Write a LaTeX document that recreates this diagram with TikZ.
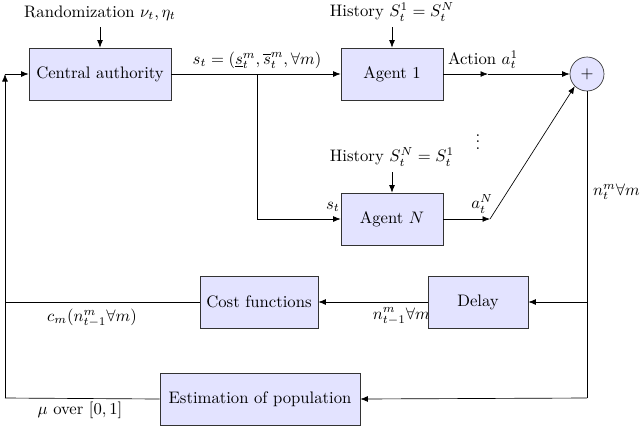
\documentclass[tikz,border=0pt]{standalone}
\usetikzlibrary{arrows.meta}
\begin{document}
\begin{tikzpicture}[x=0.6pt,y=-0.6pt,
  blk/.style={draw=black!80,fill=blue!11,inner sep=0pt,minimum height=31.2pt},
  arr/.style={-{Latex[length=4.5pt,width=3.5pt]},thin},
  ln/.style={thin},
  lbl/.style={inner sep=0.5pt}]
\useasboundingbox (0,0) rectangle (640,427);
% blocks
\node[blk,minimum width=85.2pt] (ca) at (100,74) {Central authority};
\node[blk,minimum width=61.2pt] (a1) at (392,74) {Agent 1};
\node[blk,minimum width=61.2pt] (aN) at (392,219) {Agent $N$};
\node[blk,minimum width=60pt] (dl) at (478,302) {Delay};
\node[blk,minimum width=70.8pt] (cf) at (259,302) {Cost functions};
\node[blk,minimum width=120pt] (ep) at (260,399) {Estimation of population};
\node[draw=black!80,fill=blue!11,circle,inner sep=0pt,minimum size=20.4pt] (pl) at (587,74) {$+$};
% top inputs
\node[lbl] (rnd) at (100,13) {Randomization $\nu_t,\eta_t$};
\node[lbl] (h1) at (392,12) {History $S_t^1=S_t^N$};
\node[lbl] (hN) at (392,157) {History $S_t^N=S_t^1$};
\node[lbl] (dots) at (478,137) {$\vdots$};
\coordinate (rndE) at (100,27);
\coordinate (h1E) at (392,27);
\coordinate (hNE) at (392,172);
\draw[arr] (rndE) -- (ca.north);
\draw[arr] (h1E) -- (a1.north);
\draw[arr] (hNE) -- (aN.north);
% state broadcast
\coordinate (br) at (257,74);
\coordinate (brd) at (257,219);
\draw[arr] (ca.east) -- (a1.west);
\draw[ln] (br) -- (brd);
\draw[arr] (brd) -- (aN.west);
\node[lbl] (stl) at (257,60) {$s_t=(\underline{s}_t^m,\overline{s}_t^m,\forall m)$};
\node[lbl] (st2) at (333,207) {$s_t$};
% actions
\coordinate (m1) at (488,74);
\coordinate (mN) at (490,219);
\draw[arr] (a1.east) -- (m1);
\draw[arr] (m1) -- (pl.west);
\node[lbl] (act1) at (483,60) {Action $a_t^1$};
\draw[arr] (aN.east) -- (mN);
\draw[arr] (mN) -- (pl.south west);
\node[lbl] (actN) at (482,204) {$a_t^N$};
% feedback
\coordinate (dn) at (587,398);
\coordinate (dd) at (587,302);
\draw[ln] (pl.south) -- (dn);
\node[lbl,anchor=west] (nl) at (592,192) {$n_t^m\forall m$};
\draw[arr] (dd) -- (dl.east);
\draw[arr] (dl.west) -- (cf.east);
\node[anchor=east,inner sep=0pt] (nl2) at (430,316) {$n_{t-1}^m\forall m$};
\draw[arr] (dn) -- (ep.east);
\coordinate (lc) at (5,302);
\coordinate (lb) at (5,398);
\coordinate (lt) at (5,74);
\draw[ln] (cf.west) -- (lc);
\draw[ln] (ep.west) -- (lb);
\draw[arr] (lb) -- (lt);
\draw[arr] (lt) -- (ca.west);
\node[lbl] (cml) at (92,318) {$c_m(n_{t-1}^m\forall m)$};
\node[lbl] (mul) at (80,410) {$\mu$ over $[0,1]$};
\end{tikzpicture}
\end{document}
